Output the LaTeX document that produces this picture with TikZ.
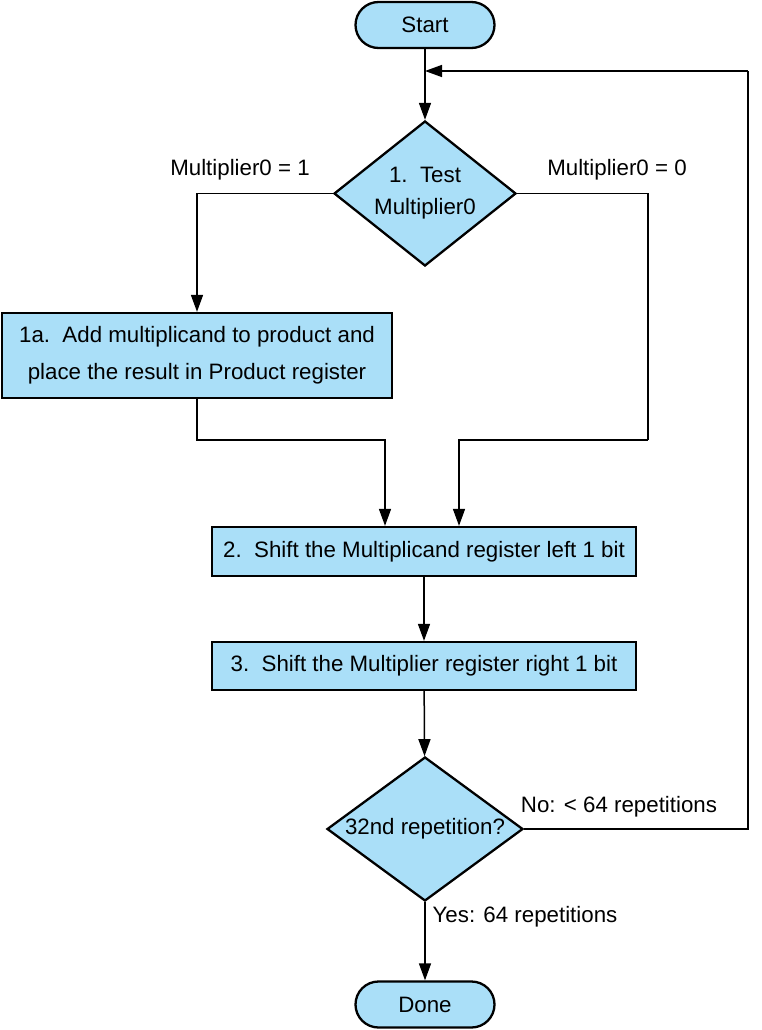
\documentclass[tikz,border=0pt]{standalone}
\usepackage{fontspec}
\setmainfont{Liberation Sans}
\usetikzlibrary{shapes.geometric,arrows.meta}
\definecolor{boxblue}{RGB}{170,223,248}
\begin{document}
\begin{tikzpicture}[x=1pt,y=-1pt,
  base/.style={draw=black, line width=2.3pt, fill=boxblue, font=\fontsize{22.3}{33}\selectfont, inner sep=0pt},
  term/.style={base, rectangle, rounded corners=23pt, minimum width=139pt, minimum height=46pt},
  proc/.style={base, rectangle, align=center},
  dec/.style={base, diamond, align=center, inner sep=-8pt},
  conn/.style={line width=1.5pt, -{Triangle[length=17pt,width=12pt]}},
  wire/.style={line width=1.5pt},
  lbl/.style={font=\fontsize{22.3}{25}\selectfont, inner sep=0pt}]
\useasboundingbox (0,0) rectangle (762,1030);
\node[term] (start) at (425,25) {Start};
\node[dec, minimum width=182pt, minimum height=145pt, aspect=1.255, font=\fontsize{22.3}{32}\selectfont] (d1) at (425,193.5) {1.\ \ Test\\Multiplier0};
\node[proc, minimum width=390pt, minimum height=85pt, font=\fontsize{22.3}{37}\selectfont] (b1) at (197,355.5) {1a.\ \ Add multiplicand to product and\\place the result in Product register};
\node[proc, minimum width=424pt, minimum height=49pt] (b2) at (424,551.5) {2.\ \ Shift the Multiplicand register left 1 bit};
\node[proc, minimum width=424pt, minimum height=48pt] (b3) at (424,666) {3.\ \ Shift the Multiplier register right 1 bit};
\node[dec, minimum width=196pt, minimum height=144pt, aspect=1.36] (d2) at (425,829) {32nd repetition?};
\node[term] (done) at (425,1004.5) {Done};

\node[lbl] (l1) at (240,170) {Multiplier0 = 1};
\node[lbl] (l0) at (617,170) {Multiplier0 = 0};
\node[lbl] (lno) at (619,807) {No: < 64 repetitions};
\node[lbl] (lyes) at (525,917) {Yes: 64 repetitions};

\coordinate (loopin) at (425,71);
\coordinate (rt) at (748,71);
\coordinate (rj) at (648,440);
\coordinate (m1) at (385,440);
\coordinate (m2) at (459,440);

\draw[conn] (start) -- (d1);
\draw[conn] (d1.west) -| (b1.north);
\draw[wire] (d1.east) -| (rj);
\draw[conn] (rj) -- (m2) -- (m2 |- b2.north);
\draw[conn] (b1.south) |- (m1) -- (m1 |- b2.north);
\draw[conn] (b2) -- (b3);
\draw[conn] (b3) -- (d2);
\draw[conn] (d2) -- (done);
\draw[wire] (d2.east) -| (rt);
\draw[conn] (rt) -- (loopin);
\end{tikzpicture}
\end{document}
